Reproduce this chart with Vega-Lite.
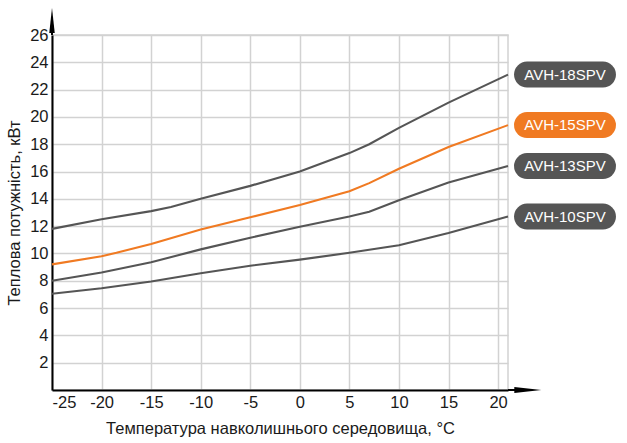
{
  "$schema": "https://vega.github.io/schema/vega-lite/v6.json",
  "width": 456,
  "height": 355,
  "autosize": {"type": "none"},
  "padding": {"left": 52, "top": 35, "right": 119, "bottom": 53},
  "background": "white",
  "config": {
    "font": "Liberation Sans",
    "view": {"stroke": "#d2d2d2", "strokeWidth": 1.5},
    "axis": {
      "domainColor": "#000000",
      "domainWidth": 2,
      "ticks": false,
      "gridColor": "#d2d2d2",
      "gridWidth": 1.5,
      "labelFontSize": 16.5,
      "labelColor": "#1a1a1a",
      "labelPadding": 4,
      "labelOverlap": false,
      "titleFontSize": 16.5,
      "titleFontWeight": "normal",
      "titleColor": "#1a1a1a"
    }
  },
  "datasets": {
    "curves": [
      {"model": "AVH-18SPV", "t": -25, "kw": 11.8},
      {"model": "AVH-18SPV", "t": -20, "kw": 12.5},
      {"model": "AVH-18SPV", "t": -15, "kw": 13.1},
      {"model": "AVH-18SPV", "t": -13, "kw": 13.4},
      {"model": "AVH-18SPV", "t": -10, "kw": 14.0},
      {"model": "AVH-18SPV", "t": -5, "kw": 14.95},
      {"model": "AVH-18SPV", "t": 0, "kw": 16.0},
      {"model": "AVH-18SPV", "t": 5, "kw": 17.35},
      {"model": "AVH-18SPV", "t": 7, "kw": 18.0},
      {"model": "AVH-18SPV", "t": 10, "kw": 19.2},
      {"model": "AVH-18SPV", "t": 15, "kw": 21.05},
      {"model": "AVH-18SPV", "t": 21, "kw": 23.1},
      {"model": "AVH-15SPV", "t": -25, "kw": 9.2},
      {"model": "AVH-15SPV", "t": -20, "kw": 9.8},
      {"model": "AVH-15SPV", "t": -18.5, "kw": 10.05},
      {"model": "AVH-15SPV", "t": -15, "kw": 10.7},
      {"model": "AVH-15SPV", "t": -10, "kw": 11.75},
      {"model": "AVH-15SPV", "t": -5, "kw": 12.65},
      {"model": "AVH-15SPV", "t": 0, "kw": 13.55},
      {"model": "AVH-15SPV", "t": 5, "kw": 14.55},
      {"model": "AVH-15SPV", "t": 7, "kw": 15.15},
      {"model": "AVH-15SPV", "t": 10, "kw": 16.2},
      {"model": "AVH-15SPV", "t": 15, "kw": 17.8},
      {"model": "AVH-15SPV", "t": 21, "kw": 19.4},
      {"model": "AVH-13SPV", "t": -25, "kw": 8.0},
      {"model": "AVH-13SPV", "t": -20, "kw": 8.6},
      {"model": "AVH-13SPV", "t": -15, "kw": 9.35},
      {"model": "AVH-13SPV", "t": -10, "kw": 10.3},
      {"model": "AVH-13SPV", "t": -5, "kw": 11.15},
      {"model": "AVH-13SPV", "t": 0, "kw": 11.95},
      {"model": "AVH-13SPV", "t": 5, "kw": 12.7},
      {"model": "AVH-13SPV", "t": 7, "kw": 13.05},
      {"model": "AVH-13SPV", "t": 10, "kw": 13.9},
      {"model": "AVH-13SPV", "t": 15, "kw": 15.2},
      {"model": "AVH-13SPV", "t": 21, "kw": 16.4},
      {"model": "AVH-10SPV", "t": -25, "kw": 7.05},
      {"model": "AVH-10SPV", "t": -20, "kw": 7.45},
      {"model": "AVH-10SPV", "t": -15, "kw": 7.95},
      {"model": "AVH-10SPV", "t": -10, "kw": 8.55},
      {"model": "AVH-10SPV", "t": -5, "kw": 9.1},
      {"model": "AVH-10SPV", "t": 0, "kw": 9.55},
      {"model": "AVH-10SPV", "t": 5, "kw": 10.05},
      {"model": "AVH-10SPV", "t": 10, "kw": 10.6},
      {"model": "AVH-10SPV", "t": 15, "kw": 11.5},
      {"model": "AVH-10SPV", "t": 21, "kw": 12.7}
    ]
  },
  "layer": [
    {
      "data": {"name": "curves"},
      "mark": {"type": "line", "strokeWidth": 2.1},
      "encoding": {
        "x": {
          "field": "t",
          "type": "quantitative",
          "scale": {"domain": [-25, 21], "nice": false, "zero": false},
          "axis": {
            "values": [-25, -20, -15, -10, -5, 0, 5, 10, 15, 20],
            "tickCount": 20,
            "labelExpr": "replace(datum.label, '−', '-')",
            "labelOverlap": false,
            "title": "Температура навколишнього середовища, °C",
            "titlePadding": 10
          }
        },
        "y": {
          "field": "kw",
          "type": "quantitative",
          "scale": {"domain": [0, 26], "nice": false},
          "axis": {
            "values": [2, 4, 6, 8, 10, 12, 14, 16, 18, 20, 22, 24, 26],
            "tickCount": 20,
            "labelOverlap": false,
            "title": "Теплова потужність, кВт",
            "titlePadding": 7
          }
        },
        "color": {
          "field": "model",
          "type": "nominal",
          "scale": {
            "domain": ["AVH-18SPV", "AVH-15SPV", "AVH-13SPV", "AVH-10SPV"],
            "range": ["#555555", "#f07a22", "#555555", "#555555"]
          },
          "legend": null
        }
      }
    },
    {
      "data": {"name": "curves"},
      "transform": [{"filter": "datum.t == 21"}],
      "mark": {"type": "rule", "strokeWidth": 26, "strokeCap": "round"},
      "encoding": {
        "x": {"datum": 22.92},
        "x2": {"datum": 30.58},
        "y": {"field": "kw", "type": "quantitative"},
        "color": {
          "field": "model",
          "type": "nominal",
          "scale": {
            "domain": ["AVH-18SPV", "AVH-15SPV", "AVH-13SPV", "AVH-10SPV"],
            "range": ["#5a5a5a", "#f56a14", "#5a5a5a", "#5a5a5a"]
          },
          "legend": null
        }
      }
    },
    {
      "data": {"name": "curves"},
      "transform": [{"filter": "datum.t == 21"}],
      "mark": {"type": "text", "fontSize": 15, "color": "white", "baseline": "middle", "align": "center"},
      "encoding": {
        "x": {"datum": 26.75},
        "y": {"field": "kw", "type": "quantitative"},
        "text": {"field": "model"}
      }
    },
    {
      "data": {"values": [{}]},
      "mark": {"type": "rule", "strokeWidth": 2, "color": "black"},
      "encoding": {
        "x": {"datum": -25},
        "y": {"datum": 26},
        "y2": {"datum": 27}
      }
    },
    {
      "data": {"values": [{}]},
      "mark": {"type": "rule", "strokeWidth": 2, "color": "black"},
      "encoding": {
        "x": {"datum": 21},
        "x2": {"datum": 22.5},
        "y": {"datum": 0}
      }
    },
    {
      "data": {"values": [{}]},
      "mark": {"type": "point", "filled": true, "opacity": 1, "color": "black", "size": 625, "shape": "M0,-1L0.22,1L-0.22,1Z"},
      "encoding": {
        "x": {"datum": -25},
        "y": {"datum": 27.06}
      }
    },
    {
      "data": {"values": [{}]},
      "mark": {"type": "point", "filled": true, "opacity": 1, "color": "black", "size": 729, "shape": "M1,0L-1,0.23L-1,-0.23Z"},
      "encoding": {
        "x": {"datum": 23.0},
        "y": {"datum": 0}
      }
    }
  ]
}
